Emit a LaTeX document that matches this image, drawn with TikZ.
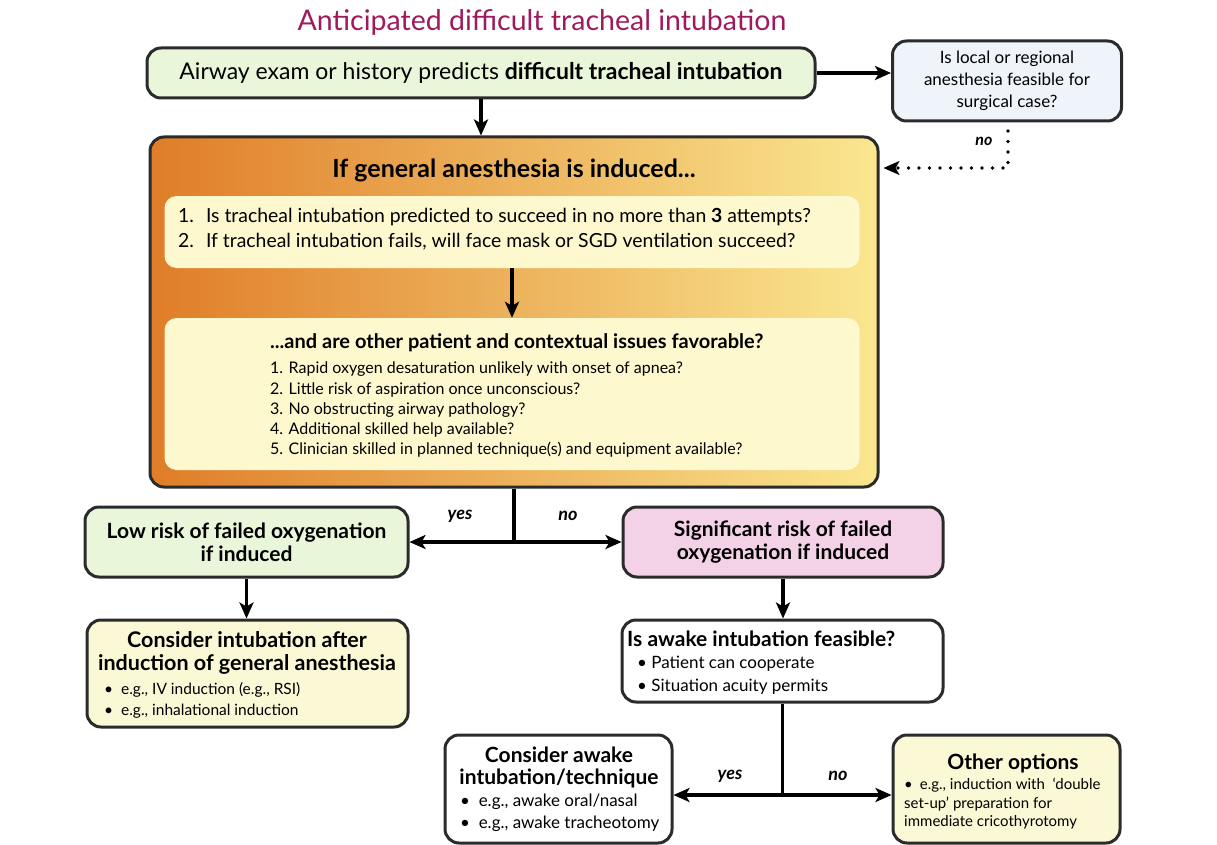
\documentclass[tikz,border=0pt]{standalone}
\usepackage{fontspec}
\setmainfont{Lato}
\usetikzlibrary{arrows.meta,calc}
\definecolor{titlec}{HTML}{9E1A5C}
\definecolor{edge}{HTML}{2B2B2B}
\definecolor{greenf}{HTML}{EAF6D9}
\definecolor{bluef}{HTML}{EEF4FA}
\definecolor{pinkf}{HTML}{F3D2E7}
\definecolor{yelf}{HTML}{FBF8D6}
\definecolor{innerf}{HTML}{FDF8CE}
\definecolor{orangeL}{HTML}{E07D28}
\definecolor{orangeM}{HTML}{F3C463}
\definecolor{orangeR}{HTML}{FAE790}
\newcommand{\fs}[1]{\fontsize{#1}{#1}\selectfont}
\newcommand{\fsb}[2]{\fontsize{#1}{#2}\selectfont}
\begin{document}
\begin{tikzpicture}[x=1pt,y=-1pt,
  box/.style={draw=edge, line width=3pt, rounded corners=14pt, inner sep=0pt},
  innerbox/.style={fill=innerf, rounded corners=12pt, inner sep=0pt},
  tip/.style={-{Stealth[length=16pt,width=14pt,inset=4pt]}},
  arr/.style={tip, line width=3.1pt, draw=black},
  lab/.style={font=\fs{18}\bfseries\itshape, inner sep=0pt},
  ttl/.style={align=center, inner sep=0pt, anchor=north},
  blt/.style={align=left, inner sep=0pt, anchor=north west}]
\useasboundingbox (0,0) rectangle (1217,845);

\node[font=\fs{28.5}, text=titlec, inner sep=0pt] (title) at (542,22) {Anticipated difficult tracheal intubation};

% top row
\node[box, fill=greenf, minimum width=668pt, minimum height=50pt, font=\fs{23}] (a) at (481,73)
  {Airway exam or history predicts \textbf{difficult tracheal intubation}};
\node[box, fill=bluef, minimum width=229pt, minimum height=80pt, align=center, font=\fsb{17}{22}] (b) at (1007,81)
  {Is local or regional\\anesthesia feasible for\\surgical case?};

% big orange box
\node[box, left color=orangeL, middle color=orangeM, right color=orangeR, minimum width=728pt, minimum height=350pt] (c) at (514,312) {};
\node[font=\fs{25}\bfseries, inner sep=0pt] (ct) at (514,170) {If general anesthesia is induced...};
\node[innerbox, minimum width=695pt, minimum height=72pt] (c1) at (512,232) {};
\node[blt, font=\fs{19.4}, anchor=west] (c1t) at (178,231)
  {\begin{tabular}{@{}l@{\hspace{12pt}}l@{}}
   1. & Is tracheal intubation predicted to succeed in no more than \textbf{3} attempts?\\[5pt]
   2. & If tracheal intubation fails, will face mask or SGD ventilation succeed?
   \end{tabular}};
\node[innerbox, minimum width=695pt, minimum height=152pt] (c2) at (512,394) {};
\node[blt, font=\fs{20}\bfseries] (c2h) at (270,333) {...and are other patient and contextual issues favorable?};
\node[blt, font=\fsb{16}{20.2}] (c2t) at (270,362)
  {1. Rapid oxygen desaturation unlikely with onset of apnea?\\
   2. Little risk of aspiration once unconscious?\\
   3. No obstructing airway pathology?\\
   4. Additional skilled help available?\\
   5. Clinician skilled in planned technique(s) and equipment available?};
\draw[arr] (c1.south) -- (c2.north);

% connectors top
\draw[arr] (a.east) -- (b.west |- a.east);
\draw[arr] (a.south) -- (c.north -| a.south);
\coordinate (d1) at (1008,131);
\coordinate (d2) at (1008,168);
\coordinate (d3) at (c.east |- d2);
\draw[line width=3.8pt, line cap=round, dash pattern=on 0pt off 10.5pt] (d1) -- (d2) -- ($(d3)+(14,0)$);
\draw[tip, line width=2.4pt] ($(d3)+(14,0)$) -- ($(d3)+(4,0)$);
\node[lab, font=\fs{16}\bfseries\itshape] (nob) at (984,141) {no};

% second level
\node[box, fill=greenf, minimum width=323pt, minimum height=70pt] (d) at (246.5,542) {};
\node[align=center, inner sep=0pt, font=\fsb{21}{23}\bfseries] (dt) at (d.center) {Low risk of failed oxygenation\\if induced};
\node[box, fill=pinkf, minimum width=320pt, minimum height=70pt] (e) at (783,542) {};
\node[align=center, inner sep=0pt, font=\fsb{21}{23}\bfseries] (et) at (e.center) {Significant risk of failed\\oxygenation if induced};
\coordinate (j1) at (c.south |- d.east);
\draw[line width=3.1pt] (c.south) -- (j1);
\draw[arr] (j1) -- (d.east);
\draw[arr] (j1) -- (e.west);
\node[lab] (y1) at (460,516) {yes};
\node[lab] (n1) at (568,516) {no};

% third level
\node[box, fill=yelf, minimum width=321pt, minimum height=107pt] (f) at (247.5,673.5) {};
\node[ttl, font=\fsb{21.5}{23}\bfseries] (ft) at (247,631) {Consider intubation after\\induction of general anesthesia};
\node[blt, font=\fsb{15.5}{21}] (fb) at (104,682) {\textbullet\ \ e.g., IV induction (e.g., RSI)\\\textbullet\ \ e.g., inhalational induction};
\node[box, fill=white, minimum width=321pt, minimum height=82pt] (g) at (782.5,661) {};
\node[blt, font=\fs{21}\bfseries] (gt) at (627,631) {Is awake intubation feasible?};
\node[blt, font=\fsb{17}{23}] (gb) at (637,656) {\textbullet\ Patient can cooperate\\\textbullet\ Situation acuity permits};
\draw[arr] (d.south) -- (f.north -| d.south);
\draw[arr] (e.south) -- (g.north -| e.south);

% bottom level
\node[box, fill=white, minimum width=227pt, minimum height=108pt] (h) at (558.5,789) {};
\node[ttl, font=\fsb{21}{22}\bfseries] (ht) at (559,747) {Consider awake\\intubation/technique};
\node[blt, font=\fsb{17}{22}] (hb) at (460,794) {\textbullet\ \ e.g., awake oral/nasal\\\textbullet\ \ e.g., awake tracheotomy};
\node[box, fill=yelf, minimum width=227pt, minimum height=108pt] (i) at (1006.5,789) {};
\node[ttl, font=\fs{21}\bfseries] (it) at (1013,754) {Other options};
\node[blt, font=\fs{15}] (ib) at (904,778)
  {\begin{tabular}{@{}l@{\hspace{7pt}}l@{}}
   \textbullet & e.g., induction with \ `double\\[2.5pt]
   \multicolumn{2}{@{}l@{}}{set-up' preparation for}\\[2.5pt]
   \multicolumn{2}{@{}l@{}}{immediate cricothyrotomy}
   \end{tabular}};
\coordinate (j2) at (g.south |- 0,795);
\draw[line width=3.1pt] (g.south) -- (j2);
\draw[arr] (j2) -- (h.east |- j2);
\draw[arr] (j2) -- (i.west |- j2);
\node[lab] (y2) at (730,776) {yes};
\node[lab] (n2) at (838,776) {no};
\end{tikzpicture}
\end{document}
